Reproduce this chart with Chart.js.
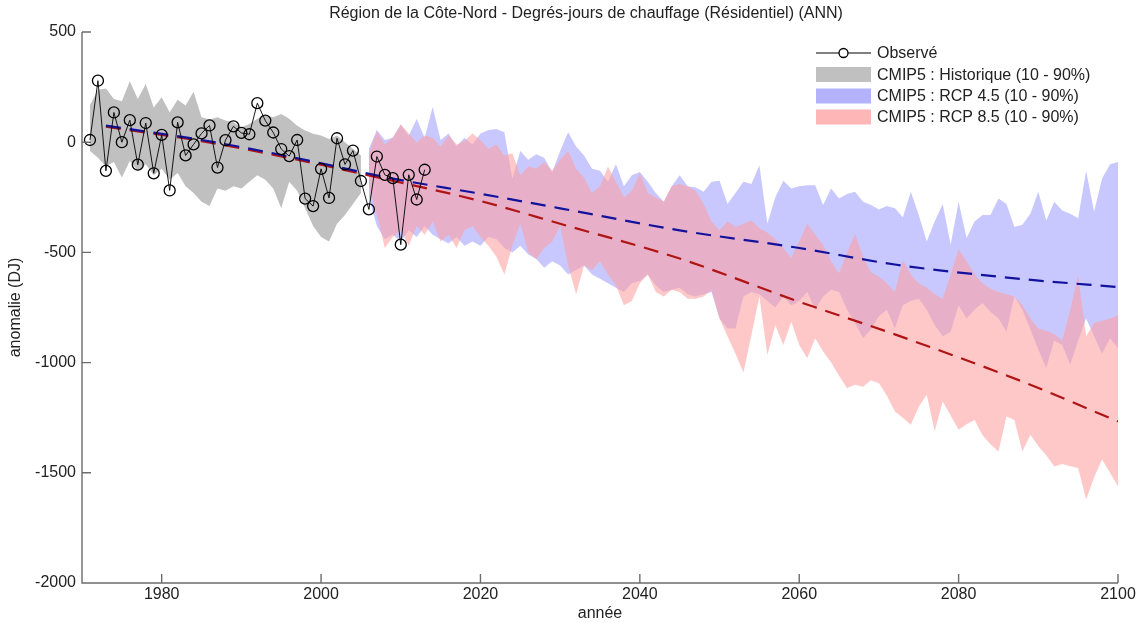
<!DOCTYPE html>
<html lang="fr">
<head>
<meta charset="utf-8">
<title>Région de la Côte-Nord - Degrés-jours de chauffage</title>
<script src="https://cdn.jsdelivr.net/npm/chart.js@4.4.1/dist/chart.umd.min.js"></script>
<style>
	html, body { margin: 0; padding: 0; background: #fff; }
	canvas { display: block; }
</style>
</head>
<body>
<canvas id="chart" width="1140" height="623"></canvas>
<script>
const FONT = "'Liberation Sans', Arial, sans-serif";
const TEXT = "#222";

const titleText = "Région de la Côte-Nord - Degrés-jours de chauffage (Résidentiel) (ANN)";
const legendLabels = [
	"Observé",
	"CMIP5 : Historique (10 - 90%)",
	"CMIP5 : RCP 4.5 (10 - 90%)",
	"CMIP5 : RCP 8.5 (10 - 90%)",
];

// observed anomalies, 1971-2013
const obsStart = 1971;
const observed = [
	10, 279, -130, 135, 0, 100, -102, 87, -141, 33,
	-219, 90, -60, -10, 40, 76, -115, 9, 72, 42,
	36, 177, 98, 44, -31, -63, 10, -256, -290, -121,
	-253, 18, -101, -38, -176, -305, -65, -148, -163, -465,
	-148, -260, -125,
];

// CMIP5 historical 10-90%, 1971-2005
const histStart = 1971;
const histHigh = [
	169, 238, 244, 196, 186, 276, 196, 264, 158, 204,
	136, 193, 166, 229, 113, 103, 113, 98, 90, 68,
	83, 106, 121, 113, 128, 106, 75, 53, 38, 30,
	15, 30, 0, -30, -60,
];
const histLow = [
	-40, -70, -110, -90, -160, -85, -130, -100, -150, -120,
	-170, -140, -200, -230, -270, -290, -210, -220, -200, -210,
	-180, -150, -170, -210, -300, -180, -220, -300, -380, -430,
	-450, -370, -330, -280, -230,
];

// projections 10-90%, 2006-2100
const projStart = 2006;
const rcp45High = [
	-30, 55, 10, 20, 80, 30, 105, 20, 160, 10,
	40, -20, 20, -10, 40, 55, 60, 45, -165, -40,
	-80, -55, -70, -135, -40, 45, -20, -60, -120, -130,
	-180, -100, -200, -150, -135, -180, -230, -270, -200, -150,
	-200, -205, -225, -180, -175, -280, -230, -180, -190, -105,
	-370, -250, -175, -210, -200, -195, -195, -285, -210, -255,
	-235, -225, -270, -285, -305, -290, -300, -340, -225, -330,
	-450, -360, -280, -465, -270, -435, -360, -330, -330, -255,
	-280, -385, -375, -325, -225, -355, -270, -310, -325, -345,
	-130, -315, -165, -100, -90,
];
const rcp45Low = [
	-250, -380, -440, -420, -450, -400, -430, -380, -420, -440,
	-460, -430, -470, -450, -470, -430, -440, -480, -500, -470,
	-510, -530, -570, -540, -560, -600, -580, -560, -600, -620,
	-640, -660, -680, -640, -630, -600, -650, -680, -670, -660,
	-690, -700, -690, -680, -800, -845, -845, -700, -680, -690,
	-720, -750, -700, -740, -720, -680, -760, -700, -670, -680,
	-760, -820, -890, -850, -790, -760, -845, -740, -720, -710,
	-760, -830, -880, -860, -740, -800, -760, -730, -770, -800,
	-860, -700, -760, -850, -940, -1025, -900, -920, -1010, -900,
	-800, -880, -960, -890, -935,
];
const rcp85High = [
	-50, 50, -10, 20, 80, 40, 0, 30, 20, -20,
	30, -10, 5, 40, 10, -30, -10, -60, -50, -150,
	-110, -120, -90, -130, -80, -40, -120, -160, -230, -200,
	-110, -180, -250, -220, -140, -230, -250, -270, -200, -190,
	-200, -220, -280, -360, -400, -360, -385, -370, -355, -390,
	-410, -440, -480, -525, -450, -370, -420, -465, -540, -595,
	-500, -415, -520, -590, -610, -640, -680, -535, -600, -640,
	-660, -690, -710, -600, -485, -540, -600, -640, -665, -680,
	-690, -700, -740, -800, -845, -855, -870, -900, -760, -605,
	-880, -820, -810, -800, -785,
];
const rcp85Low = [
	-200, -330, -480, -430, -400, -470, -380, -420, -360, -450,
	-420, -480, -400, -380, -430, -470, -520, -600, -470, -370,
	-500, -530, -480, -450, -380, -560, -690, -560, -580, -540,
	-600, -650, -740, -720, -640, -600, -680, -700, -670, -680,
	-710, -710, -700, -670, -800, -880, -960, -1045, -875, -700,
	-965, -830, -920, -815, -920, -980, -890, -950, -1000, -1060,
	-1116, -1100, -1110, -1080, -1094, -1150, -1222, -1250, -1282, -1200,
	-1146, -1312, -1177, -1240, -1305, -1280, -1260, -1330, -1370, -1403,
	-1244, -1260, -1403, -1327, -1380, -1420, -1471, -1460, -1470, -1478,
	-1621, -1520, -1440, -1500, -1561,
];

// ensemble median trends
const trendYears = [1973, 1985, 1996, 2009, 2020, 2030, 2045, 2060, 2072, 2088, 2100];
const rcp45Trend = [75, 10, -65, -165, -234, -300, -400, -480, -555, -621, -657];
const rcp85Trend = [70, 5, -72, -175, -267, -370, -528, -724, -872, -1086, -1267];

const colors = {
	hist: "rgb(192,192,192)",
	rcp45: "rgba(145,145,255,0.5)",
	rcp85: "rgba(255,160,160,0.58)",
	rcp45Line: "#12129c",
	rcp85Line: "#b01414",
};

const points = (start, values) => values.map((y, i) => ({ x: start + i, y }));
const pairs = (xs, values) => values.map((y, i) => ({ x: xs[i], y }));

const area = (data, order) => ({
	data,
	order,
	borderWidth: 0,
	pointRadius: 0,
	fill: false,
	tension: 0,
});

const upper = (data, order, color) => ({
	...area(data, order),
	fill: "-1",
	backgroundColor: color,
});

const dashed = (data, order, color) => ({
	data,
	order,
	borderColor: color,
	borderWidth: 2.2,
	borderDash: [15, 9],
	pointRadius: 0,
	fill: false,
	cubicInterpolationMode: "monotone",
});

// L-shaped axes with inward ticks, as in the original figure
const axesFrame = {
	id: "axesFrame",
	afterDraw(chart) {
		const { ctx, chartArea, scales } = chart;
		const { left, right, top, bottom } = chartArea;
		ctx.save();
		ctx.strokeStyle = "#6c6c6c";
		ctx.lineWidth = 1.4;
		ctx.beginPath();
		ctx.moveTo(left, top);
		ctx.lineTo(left, bottom);
		ctx.lineTo(right, bottom);
		scales.x.ticks.forEach(t => {
			const px = scales.x.getPixelForValue(t.value);
			ctx.moveTo(px, bottom);
			ctx.lineTo(px, bottom - 9);
		});
		scales.y.ticks.forEach(t => {
			const py = scales.y.getPixelForValue(t.value);
			ctx.moveTo(left, py);
			ctx.lineTo(left + 9, py);
		});
		ctx.stroke();
		ctx.restore();
	},
};

const headerTitle = {
	id: "headerTitle",
	afterDraw(chart) {
		const { ctx } = chart;
		ctx.save();
		ctx.font = `16px ${FONT}`;
		ctx.fillStyle = TEXT;
		ctx.textAlign = "center";
		ctx.textBaseline = "middle";
		ctx.fillText(titleText, 586, 14);
		ctx.restore();
	},
};

const boxLegend = {
	id: "boxLegend",
	afterDraw(chart) {
		const { ctx } = chart;
		const x0 = 816;
		const w = 55;
		const rows = [53, 74.5, 96, 117];
		const fills = [null, colors.hist, "rgb(178,178,255)", "rgb(255,182,182)"];
		ctx.save();
		ctx.font = `16px ${FONT}`;
		ctx.fillStyle = TEXT;
		ctx.textBaseline = "middle";
		rows.forEach((yy, i) => {
			if (i === 0) {
				ctx.strokeStyle = "#000";
				ctx.lineWidth = 1;
				ctx.beginPath();
				ctx.moveTo(x0, yy);
				ctx.lineTo(x0 + w, yy);
				ctx.stroke();
				ctx.lineWidth = 1.3;
				ctx.beginPath();
				ctx.arc(x0 + w / 2, yy, 4.5, 0, Math.PI * 2);
				ctx.fillStyle = "#fff";
				ctx.fill();
				ctx.stroke();
			} else {
				ctx.fillStyle = fills[i];
				ctx.fillRect(x0, yy - 7.5, w, 15);
			}
			ctx.fillStyle = TEXT;
			ctx.fillText(legendLabels[i], x0 + 61, yy + 1);
		});
		ctx.restore();
	},
};

new Chart(document.getElementById("chart"), {
	type: "line",
	data: {
		datasets: [
			area(points(histStart, histLow), 6),
			upper(points(histStart, histHigh), 6, colors.hist),
			area(points(projStart, rcp45Low), 5),
			upper(points(projStart, rcp45High), 5, colors.rcp45),
			area(points(projStart, rcp85Low), 4),
			upper(points(projStart, rcp85High), 4, colors.rcp85),
			dashed(pairs(trendYears, rcp85Trend), 3, colors.rcp85Line),
			dashed(pairs(trendYears, rcp45Trend), 2, colors.rcp45Line),
			{
				data: points(obsStart, observed),
				order: 1,
				borderColor: "#000",
				borderWidth: 0.9,
				pointRadius: 5.5,
				pointBorderWidth: 1.3,
				pointBorderColor: "#000",
				pointBackgroundColor: "rgba(0,0,0,0)",
				fill: false,
				tension: 0,
			},
		],
	},
	plugins: [axesFrame, headerTitle, boxLegend],
	options: {
		responsive: false,
		animation: false,
		events: [],
		layout: { padding: { top: 32, right: 22, bottom: 0, left: 0 } },
		plugins: {
			legend: { display: false },
			tooltip: { enabled: false },
			title: { display: false },
		},
		scales: {
			x: {
				type: "linear",
				min: 1970,
				max: 2100,
				grid: { display: false, drawTicks: false },
				border: { display: false },
				ticks: {
					stepSize: 20,
					includeBounds: false,
					maxRotation: 0,
					padding: 2,
					color: TEXT,
					font: { size: 16, family: FONT },
					callback: v => String(v),
				},
				title: {
					display: true,
					text: "année",
					color: TEXT,
					font: { size: 16, family: FONT },
					padding: { top: 0, bottom: 0 },
				},
				afterFit: scale => {
					scale.height = 40;
				},
			},
			y: {
				min: -2000,
				max: 500,
				grid: { display: false, drawTicks: false },
				border: { display: false },
				ticks: {
					stepSize: 500,
					padding: 6,
					color: TEXT,
					font: { size: 16, family: FONT },
					callback: v => String(v),
				},
				title: {
					display: true,
					text: "anomalie (DJ)",
					color: TEXT,
					font: { size: 16, family: FONT },
					padding: { top: 6, bottom: 0 },
				},
				afterFit: scale => {
					scale.width = 82;
				},
			},
		},
	},
});
</script>
</body>
</html>
